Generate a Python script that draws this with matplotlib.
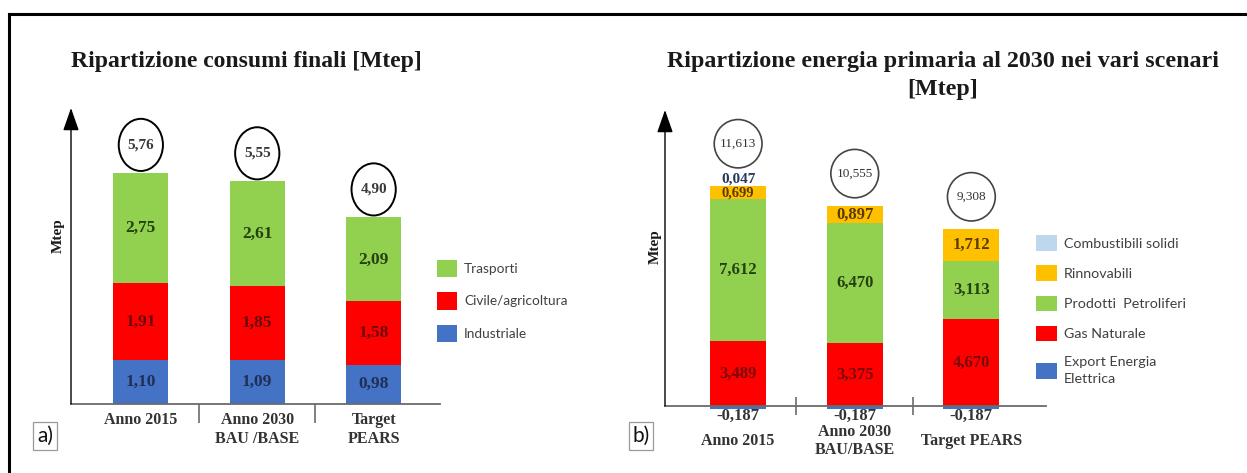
import matplotlib
matplotlib.use("Agg")
import matplotlib.pyplot as plt
from matplotlib.patches import Ellipse
import numpy as np

# ---------------- data ----------------
cats_a = ["Anno 2015", "Anno 2030\nBAU /BASE", "Target\nPEARS"]
industriale = [1.10, 1.09, 0.98]
civile = [1.91, 1.85, 1.58]
trasporti = [2.75, 2.61, 2.09]
totals_a = [5.76, 5.55, 4.90]

cats_b = ["Anno 2015", "Anno 2030\nBAU/BASE", "Target PEARS"]
export_ee = [-0.187, -0.187, -0.187]
gas = [3.489, 3.375, 4.670]
petroliferi = [7.612, 6.470, 3.113]
rinnovabili = [0.699, 0.897, 1.712]
solidi = [0.047, 0.0, 0.0]
totals_b = [11.613, 10.555, 9.308]

GREEN = "#92D050"
RED = "#FF0000"
BLUE = "#4472C4"
ORANGE = "#FFC000"
LBLUE = "#BDD7EE"

W, H = 1247, 473
fig = plt.figure(figsize=(W / 100, H / 100), dpi=100)
SERIF = "Liberation Serif"
SANS = "Lato"


def fmt(v, nd):
    return f"{v:.{nd}f}".replace(".", ",")


def px_axes(x0, y_top, x1, y_bot):
    return fig.add_axes([x0 / W, 1 - y_bot / H, (x1 - x0) / W, (y_bot - y_top) / H])


def style_axes(ax, ncat, direction):
    for s in ["top", "right", "left"]:
        ax.spines[s].set_visible(False)
    ax.spines["bottom"].set_color("#6b6b6b")
    ax.spines["bottom"].set_linewidth(1.3)
    ax.set_yticks([])
    ax.annotate("", xy=(0, 1), xytext=(0, 0), xycoords="axes fraction",
                arrowprops=dict(arrowstyle="-|>,head_length=1.0,head_width=0.35",
                                color="black", lw=1.0, shrinkA=0, shrinkB=0,
                                mutation_scale=14))
    ax.set_xticks(np.arange(ncat - 1) + 0.5, minor=True)
    ax.tick_params(axis="x", which="major", length=0)
    ax.tick_params(axis="x", which="minor", length=14 if direction == "out" else 13,
                   width=1.2, color="#6b6b6b", direction=direction)


# ---------------- panel a ----------------
axa = px_axes(71, 108, 440, 404)
xa = np.arange(len(cats_a))
wa = 0.47
b1 = np.array(industriale)
b2 = b1 + np.array(civile)
axa.bar(xa, industriale, wa, color=BLUE, label="Industriale")
axa.bar(xa, civile, wa, bottom=b1, color=RED, label="Civile/agricoltura")
axa.bar(xa, trasporti, wa, bottom=b2, color=GREEN, label="Trasporti")
axa.set_xlim(-0.6, 2.57)
axa.set_ylim(0, 7.38)
style_axes(axa, len(cats_a), "out")
axa.set_xticks(xa, cats_a, fontfamily=SERIF, fontweight="bold", fontsize=11.5,
               color="#333333", linespacing=1.25)
axa.tick_params(axis="x", which="major", pad=6)

for i in range(len(cats_a)):
    axa.text(xa[i], industriale[i] / 2, fmt(industriale[i], 2), ha="center", va="center",
             fontfamily=SERIF, fontweight="bold", fontsize=12.5, color="#1f2f55")
    axa.text(xa[i], b1[i] + civile[i] / 2, fmt(civile[i], 2), ha="center", va="center",
             fontfamily=SERIF, fontweight="bold", fontsize=12.5, color="#6a0a0a")
    axa.text(xa[i], b2[i] + trasporti[i] / 2, fmt(trasporti[i], 2), ha="center", va="center",
             fontfamily=SERIF, fontweight="bold", fontsize=12.5, color="#24400f")
    top = b2[i] + trasporti[i]
    cy = top + 0.70
    axa.add_patch(Ellipse((xa[i], cy), 0.38, 1.30, fill=False, ec="black", lw=1.4,
                          clip_on=False))
    axa.text(xa[i], cy, fmt(totals_a[i], 2), ha="center", va="center",
             fontfamily=SERIF, fontweight="bold", fontsize=11, color="#3a3a3a")

h, l = axa.get_legend_handles_labels()
leg_a = axa.legend(h[::-1], l[::-1], loc="upper left", bbox_to_anchor=(430 / W, 1 - 253 / H),
                   bbox_transform=fig.transFigure, frameon=False, borderpad=0,
                   handlelength=1.45, handleheight=1.6, handletextpad=0.55, labelspacing=1.1,
                   prop=dict(family=SANS, size=9.8))
for t in leg_a.get_texts():
    t.set_color("#404040")

fig.text(246 / W, 1 - 62 / H, "Ripartizione consumi finali [Mtep]", ha="center", va="center",
         fontfamily=SERIF, fontweight="bold", fontsize=17, color="#1a1a1a")
fig.text(58 / W, 1 - 236 / H, "Mtep", ha="center", va="center", rotation=90,
         fontfamily=SERIF, fontweight="bold", fontsize=11, color="#1a1a1a")
fig.text(45 / W, 1 - 436 / H, "a)", ha="center", va="center", fontfamily=SANS, fontsize=15,
         color="#111111",
         bbox=dict(boxstyle="square,pad=0.18", fc="white", ec="#9a9a9a", lw=0.9))

# ---------------- panel b ----------------
axb = px_axes(665, 110, 1046, 406)
xb = np.arange(len(cats_b))
wb = 0.48
c1 = np.array(gas)
c2 = c1 + np.array(petroliferi)
c3 = c2 + np.array(rinnovabili)
axb.bar(xb, export_ee, wb, color=BLUE, label="Export Energia\nElettrica", clip_on=False)
axb.bar(xb, gas, wb, color=RED, label="Gas Naturale")
axb.bar(xb, petroliferi, wb, bottom=c1, color=GREEN, label="Prodotti  Petroliferi")
axb.bar(xb, rinnovabili, wb, bottom=c2, color=ORANGE, label="Rinnovabili")
axb.bar(xb, solidi, wb, bottom=c3, color=LBLUE, label="Combustibili solidi")
axb.set_xlim(-0.627, 2.64)
axb.set_ylim(0, 15.91)
style_axes(axb, len(cats_b), "inout")
axb.set_xticks(xb, cats_b, fontfamily=SERIF, fontweight="bold", fontsize=11.5,
               color="#333333", linespacing=1.2, va="center")
axb.tick_params(axis="x", which="major", pad=25)

for i in range(len(cats_b)):
    axb.text(xb[i], -0.55, fmt(export_ee[i], 3), ha="center", va="center",
             fontfamily=SERIF, fontweight="bold", fontsize=12, color="#333333")
    axb.text(xb[i], gas[i] / 2, fmt(gas[i], 3), ha="center", va="center",
             fontfamily=SERIF, fontweight="bold", fontsize=12, color="#7a0a0a")
    axb.text(xb[i], c1[i] + petroliferi[i] / 2, fmt(petroliferi[i], 3), ha="center",
             va="center", fontfamily=SERIF, fontweight="bold", fontsize=12, color="#24400f")
    small = rinnovabili[i] < 0.8
    axb.text(xb[i], c2[i] + rinnovabili[i] / 2, fmt(rinnovabili[i], 3), ha="center",
             va="center", fontfamily=SERIF, fontweight="bold",
             fontsize=10.5 if small else 12, color="#5a3a00")
    top = c3[i] + solidi[i]
    extra = 0.0
    if solidi[i] > 0:
        axb.text(xb[i], top + 0.02, fmt(solidi[i], 3), ha="center", va="bottom",
                 fontfamily=SERIF, fontweight="bold", fontsize=11, color="#263a5e")
        extra = 0.5
    cy = top + 1.75 + extra
    axb.add_patch(Ellipse((xb[i], cy), 0.41, 2.6, fill=False, ec="#444444", lw=1.2,
                          clip_on=False))
    axb.text(xb[i], cy, fmt(totals_b[i], 3), ha="center", va="center",
             fontfamily=SERIF, fontsize=9.5, color="#333333")

h, l = axb.get_legend_handles_labels()
leg_b = axb.legend(h[::-1], l[::-1], loc="upper left", bbox_to_anchor=(1029 / W, 1 - 228 / H),
                   bbox_transform=fig.transFigure, frameon=False, borderpad=0,
                   handlelength=1.45, handleheight=1.3, handletextpad=0.5, labelspacing=1.02,
                   prop=dict(family=SANS, size=10.3))
for t in leg_b.get_texts():
    t.set_color("#404040")
    t.set_linespacing(1.55)

fig.text(943 / W, 1 - 62 / H, "Ripartizione energia primaria al 2030 nei vari scenari",
         ha="center", va="center", fontfamily=SERIF, fontweight="bold", fontsize=17.3,
         color="#1a1a1a")
fig.text(943 / W, 1 - 89 / H, "[Mtep]", ha="center", va="center", fontfamily=SERIF,
         fontweight="bold", fontsize=17.3, color="#1a1a1a")
fig.text(655 / W, 1 - 247 / H, "Mtep", ha="center", va="center", rotation=90,
         fontfamily=SERIF, fontweight="bold", fontsize=11, color="#1a1a1a")
fig.text(641 / W, 1 - 436 / H, "b)", ha="center", va="center", fontfamily=SANS, fontsize=15,
         color="#111111",
         bbox=dict(boxstyle="square,pad=0.18", fc="white", ec="#9a9a9a", lw=0.9))

# outer frame
fig.add_artist(plt.Line2D([9 / W, 1], [1 - 14 / H, 1 - 14 / H], color="black", lw=2.2,
                          transform=fig.transFigure))
fig.add_artist(plt.Line2D([9 / W, 9 / W], [1 - 14 / H, 0], color="black", lw=2.2,
                          transform=fig.transFigure))

fig.savefig("out.png", dpi=100)
